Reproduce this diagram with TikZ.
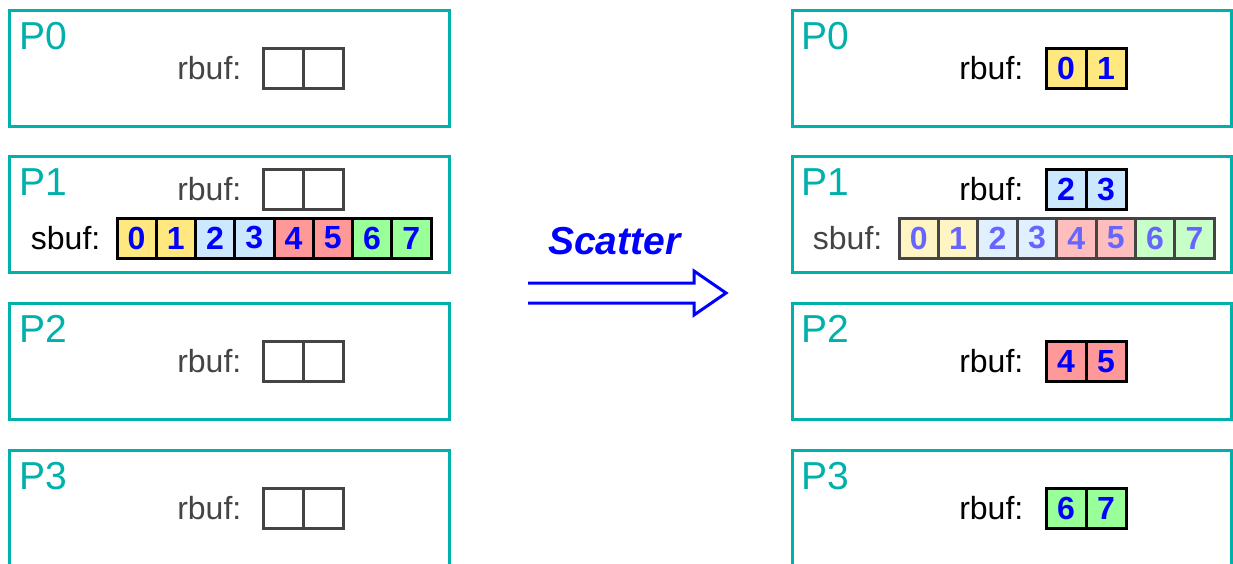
\documentclass[tikz,border=0pt]{standalone}
\usepackage{fontspec}
\setmainfont{Liberation Sans}
\definecolor{procteal}{RGB}{0,176,170}
\definecolor{bufgray}{RGB}{68,68,68}
\definecolor{digitblue}{RGB}{0,0,255}
\definecolor{fadedblue}{RGB}{102,102,255}
\definecolor{arrowblue}{RGB}{0,0,255}
\definecolor{cyel}{RGB}{255,232,128}
\definecolor{cblu}{RGB}{204,232,255}
\definecolor{cred}{RGB}{255,153,153}
\definecolor{cgrn}{RGB}{153,255,153}
\definecolor{fyel}{RGB}{255,245,196}
\definecolor{fblu}{RGB}{224,240,255}
\definecolor{fred}{RGB}{255,190,190}
\definecolor{fgrn}{RGB}{200,255,200}
\tikzset{
  proc/.style={draw=procteal, line width=3pt, minimum width=440pt, minimum height=116pt,
    inner sep=0pt, outer sep=0pt, anchor=north west},
  plabel/.style={text=procteal, font=\fontsize{39}{40}\selectfont, inner sep=0pt, anchor=base west},
  buflabel/.style={font=\fontsize{32}{34}\selectfont, inner sep=0pt, anchor=east},
  cell/.style={line width=3pt, minimum width=40pt, minimum height=40pt, inner sep=0pt,
    outer sep=0pt, anchor=west, font=\fontsize{32}{34}\selectfont\bfseries},
  fullcell/.style={cell, draw=black, text=digitblue},
  emptycell/.style={cell, draw=bufgray},
  fadedcell/.style={cell, draw=bufgray, text=fadedblue},
}
\begin{document}
\begin{tikzpicture}[x=1pt, y=-1pt]
\useasboundingbox (0,0) rectangle (1233,563);
\clip (0,0) rectangle (1233,563);

% process boxes, before (left) and after (right)
\foreach \i/\top/\rc in {0/10/68, 1/156/189.5, 2/303/361.5, 3/450/508}{
  \node[proc] (L\i) at (9.5,\top) {};
  \node[proc, minimum width=439pt] (R\i) at (792,\top) {};
  \node[plabel] (L\i lab) at (19,{\top+39.5}) {P\i};
  \node[plabel] (R\i lab) at (801,{\top+39.5}) {P\i};
  \node[buflabel, text=bufgray] (L\i rt) at (241.5,\rc) {rbuf:};
  \node[buflabel, text=black] (R\i rt) at (1023.5,\rc) {rbuf:};
  \node[emptycell] (L\i ra) at (263,\rc) {};
  \node[emptycell] (L\i rb) at (L\i ra.east) {};
}

% received buffers after the scatter
\node[fullcell, fill=cyel] (R0ra) at (1046,68) {0};
\node[fullcell, fill=cyel] (R0rb) at (R0ra.east) {1};
\node[fullcell, fill=cblu] (R1ra) at (1046,189.5) {2};
\node[fullcell, fill=cblu] (R1rb) at (R1ra.east) {3};
\node[fullcell, fill=cred] (R2ra) at (1046,361.5) {4};
\node[fullcell, fill=cred] (R2rb) at (R2ra.east) {5};
\node[fullcell, fill=cgrn] (R3ra) at (1046,508) {6};
\node[fullcell, fill=cgrn] (R3rb) at (R3ra.east) {7};

% send buffer on the root P1
\node[buflabel, text=black] (Lst) at (100.5,238) {sbuf:};
\node[buflabel, text=bufgray] (Rst) at (882.5,238) {sbuf:};
\foreach \k/\c/\f in {0/cyel/fyel, 1/cyel/fyel, 2/cblu/fblu, 3/cblu/fblu,
                      4/cred/fred, 5/cred/fred, 6/cgrn/fgrn, 7/cgrn/fgrn}{
  \node[fullcell, fill=\c, minimum width=39.25pt] (Ls\k) at ({117+39.25*\k},238) {\k};
  \node[fadedcell, fill=\f, minimum width=39.4pt] (Rs\k) at ({899+39.4*\k},238) {\k};
}

% the Scatter arrow
\node[text=arrowblue, font=\fontsize{39}{40}\selectfont\bfseries\itshape,
      inner sep=0pt, anchor=base west] (scat) at (548,254) {Scatter};
\draw[arrowblue, line width=3pt, miter limit=10]
  (528,283) -- (694,283) -- (694,271) -- (726,293) -- (694,315) -- (694,303) -- (528,303);
\end{tikzpicture}
\end{document}
